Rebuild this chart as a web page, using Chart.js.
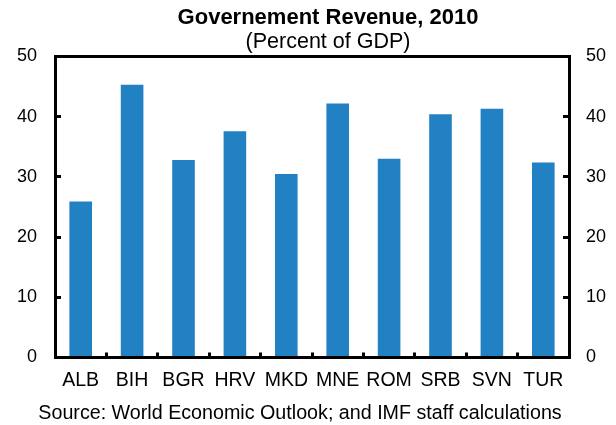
<!DOCTYPE html>
<html>
<head>
<meta charset="utf-8">
<script src="https://cdn.jsdelivr.net/npm/chart.js@4/dist/chart.umd.min.js"></script>
<style>
  html, body { margin: 0; padding: 0; background: #fff; }
  canvas { display: block; }
</style>
</head>
<body>
<canvas id="chart" width="616" height="425"></canvas>
<script>
// data
const countries = ['ALB', 'BIH', 'BGR', 'HRV', 'MKD', 'MNE', 'ROM', 'SRB', 'SVN', 'TUR'];
const revenue = [25.9, 45.3, 32.8, 37.6, 30.5, 42.2, 33.0, 40.4, 41.3, 32.4];
const yMin = 0;
const yMax = 50;
const yStep = 10;

const titleText = 'Governement Revenue, 2010';
const subtitleText = '(Percent of GDP)';
const sourceText = 'Source: World Economic Outlook; and IMF staff calculations';

const FONT = "'Liberation Sans', Arial, sans-serif";

// titles and source note
const textPlugin = {
    id: 'texts',
    afterDraw(chart) {
        const ctx = chart.ctx;
        ctx.save();
        ctx.fillStyle = '#000';
        ctx.textAlign = 'center';
        ctx.textBaseline = 'alphabetic';
        ctx.font = 'bold 22px ' + FONT;
        ctx.fillText(titleText, 328, 24);
        ctx.font = '21.5px ' + FONT;
        ctx.fillText(subtitleText, 328, 48);
        ctx.font = '19.7px ' + FONT;
        ctx.fillText(sourceText, 300, 419);
        ctx.restore();
    }
};

const tickFont = { family: FONT, size: 18 };

function yAxis(position, padding, width) {
    return {
        type: 'linear',
        position: position,
        min: yMin,
        max: yMax,
        z: 1,
        ticks: { stepSize: yStep, color: '#000', font: tickFont, padding: padding },
        grid: { drawOnChartArea: false, tickLength: -6, lineWidth: 3, color: '#000' },
        border: { display: true, width: 3, color: '#000' },
        afterFit(scale) { scale.width = width; }
    };
}

const ctx = document.getElementById('chart').getContext('2d');
new Chart(ctx, {
    type: 'bar',
    data: {
        labels: countries,
        datasets: [{
            data: revenue,
            backgroundColor: '#2281c3',
            borderWidth: 0,
            barPercentage: 0.44,
            categoryPercentage: 1.0,
            yAxisID: 'y'
        }]
    },
    options: {
        responsive: false,
        animation: false,
        devicePixelRatio: 1,
        layout: { padding: { top: 56.5, left: 0, right: 0, bottom: 0 } },
        plugins: {
            legend: { display: false },
            title: { display: false },
            tooltip: { enabled: false }
        },
        scales: {
            x: {
                type: 'category',
                position: 'bottom',
                z: 1,
                ticks: { color: '#000', font: { family: FONT, size: 19.5 }, padding: 16, maxRotation: 0, autoSkip: false },
                grid: { drawOnChartArea: false, tickLength: -5, lineWidth: 3, color: '#000', offset: true },
                border: { display: true, width: 3, color: '#000' },
                afterFit(scale) { scale.height = 67.5; }
            },
            xTop: {
                type: 'category',
                position: 'top',
                z: 1,
                ticks: { display: false },
                grid: { display: false },
                border: { display: true, width: 3, color: '#000' },
                afterFit(scale) { scale.height = 0; }
            },
            y: yAxis('left', 24, 55),
            y2: yAxis('right', 23, 47)
        }
    },
    plugins: [textPlugin]
});
</script>
</body>
</html>
